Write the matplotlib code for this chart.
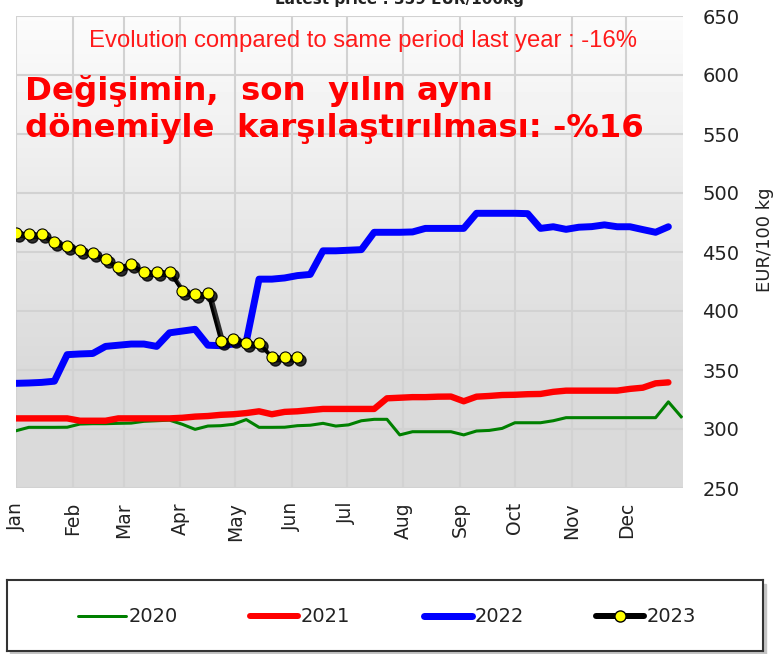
import numpy as np
import matplotlib.pyplot as plt
from matplotlib import transforms
from matplotlib.patches import Rectangle
from matplotlib.lines import Line2D

# weekly prices, EUR/100 kg
months = ['Jan', 'Feb', 'Mar', 'Apr', 'May', 'Jun',
          'Jul', 'Aug', 'Sep', 'Oct', 'Nov', 'Dec']
month_start = [0, 31, 59, 90, 120, 151, 181, 212, 243, 273, 304, 334]
yticks = [250, 300, 350, 400, 450, 500, 550, 600, 650]

y2020 = [298.5, 301.4, 301.4, 301.4, 301.5, 304.2, 304.5, 304.5, 304.8, 305,
         306.5, 307, 307.5, 304, 299.7, 302.5, 302.8, 304, 308, 301.4,
         301.4, 301.5, 302.8, 303.2, 304.8, 302.5, 303.5, 307, 308.2, 308.2,
         295, 297.7, 297.7, 297.7, 297.7, 295, 298.3, 298.8, 300.5, 305.3,
         305.3, 305.3, 307, 309.6, 309.6, 309.6, 309.6, 309.6, 309.6, 309.6,
         309.6, 323, 310.4]
y2021 = [309, 309, 309, 309, 309, 307, 307, 307, 309, 309,
         309, 309, 309, 309.5, 310.5, 311, 312, 312.5, 313.5, 315,
         312.5, 314.5, 315, 316, 317, 317, 317, 317, 317, 326,
         326.5, 327, 327, 327.4, 327.5, 323.5, 327.4, 328, 328.8, 329,
         329.5, 329.7, 331.5, 332.5, 332.5, 332.5, 332.5, 332.5, 334, 335,
         338.7, 339.5]
y2022 = [338.7, 339, 339.5, 340.5, 363, 363.6, 364, 370, 371, 372,
         372, 370, 381.5, 383, 384.5, 371, 370.6, 372, 374, 427,
         427, 428, 430, 431, 451, 451, 451.5, 452, 466.7, 466.7,
         466.7, 467, 470, 470, 470, 470, 482.8, 482.8, 482.8, 482.8,
         482.5, 470, 471.4, 469.2, 471, 471.5, 473, 471.4, 471.4, 469,
         466.7, 471.4]
y2023 = [466.4, 465.0, 465.3, 458.5, 455.3, 452.0, 449.2, 443.8, 437.5, 439.8,
         433.1, 433.1, 433.1, 416.9, 414.4, 415.0, 374.8, 376.5, 372.6, 372.6,
         360.8, 360.8, 360.8]

fig = plt.figure(figsize=(7.77, 6.54), dpi=100)
ax = fig.add_axes([16/777, 1-488/654, 667/777, 472/654])

# background gradient (white at top to grey at the bottom)
grad = np.concatenate([np.linspace(0.985, 0.855, 75), np.full(25, 0.855)])
ax.imshow(grad[:, None], cmap='gray', vmin=0, vmax=1, aspect='auto',
          extent=[0, 1, 0, 1], transform=ax.transAxes, zorder=0)

ax.set_xlim(0, 365)
ax.set_ylim(250, 650)
for v in yticks:
    ax.axhline(v, color='#d2d2d2', lw=1.5, zorder=1)
for m in month_start:
    ax.axvline(m, color='#d2d2d2', lw=1.5, zorder=1)

ax.plot(np.arange(len(y2020))*7, y2020, color='#008000', lw=2.2, zorder=3)
ax.plot(np.arange(len(y2021))*7, y2021, color='#ff0000', lw=4.6, zorder=3,
        solid_capstyle='round')
ax.plot(np.arange(len(y2022))*7, y2022, color='#0000ff', lw=5, zorder=3,
        solid_capstyle='round')

x23 = np.arange(len(y2023))*7
shadow = transforms.offset_copy(ax.transData, fig=fig, x=3, y=-3, units='dots')
ax.plot(x23, y2023, color='black', lw=3, marker='o', ms=8, mfc='black',
        mec='black', alpha=0.8, transform=shadow, zorder=4)
ax.plot(x23, y2023, color='black', lw=2.2, marker='o', ms=8, mfc='#ffff00',
        mec='black', mew=0.8, zorder=5)

for s in ax.spines.values():
    s.set_visible(False)
ax.yaxis.tick_right()
ax.set_yticks(yticks)
ax.set_xticks(month_start)
ax.set_xticklabels(months, rotation=90, va='top', ha='center')
ax.tick_params(axis='y', length=0, pad=14, labelsize=14, labelcolor='#222222')
ax.tick_params(axis='x', length=0, pad=10, labelsize=13.5, labelcolor='#222222')

fig.text(765/777, 1-240/654, 'EUR/100 kg', rotation=90, ha='center',
         va='center', fontsize=13, color='#222222')

fig.text(399/777, 1-4/654, 'Latest price : 359 EUR/100kg', ha='center',
         va='baseline', fontsize=11, fontweight='bold', color='#222222')
fig.text(363/777, 1-47/654, 'Evolution compared to same period last year : -16%',
         ha='center', va='baseline', fontsize=17.2, color='#ff1a1a',
         family='Liberation Sans')
fig.text(25/777, 1-100/654, 'Değişimin,  son  yılın aynı', ha='left',
         va='baseline', fontsize=23.3, fontweight='bold', color='#ff0000')
fig.text(25/777, 1-137/654, 'dönemiyle  karşılaştırılması: -%16', ha='left',
         va='baseline', fontsize=23.3, fontweight='bold', color='#ff0000')

# legend box
fig.patches.append(Rectangle((10/777, 1-655/654), 756/777, 71/654,
                             transform=fig.transFigure, color='#c4c4c4',
                             zorder=-1))
lax = fig.add_axes([7/777, 1-651/654, 756/777, 71/654])
lax.set_xlim(7, 763)
lax.set_ylim(651, 580)
lax.set_xticks([])
lax.set_yticks([])
for s in lax.spines.values():
    s.set_color('#333333')
    s.set_linewidth(1.5)
entries = [('2020', '#008000', 3, 78), ('2021', '#ff0000', 6, 250),
           ('2022', '#0000ff', 7, 424), ('2023', 'black', 6, 596)]
for lab, col, w, x0 in entries:
    lax.add_line(Line2D([x0, x0+48], [616, 616], color=col, lw=w*0.72,
                        solid_capstyle='round'))
    lax.text(x0+51, 616, lab, va='center', ha='left', fontsize=14,
             color='#222222')
lax.plot([620], [616], marker='o', ms=8, mfc='#ffff00', mec='black')

fig.savefig('out.png', dpi=100)
